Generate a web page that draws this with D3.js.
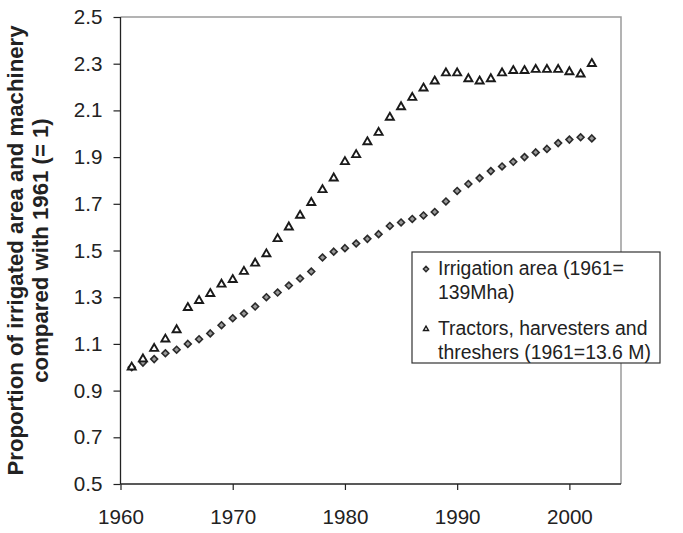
<!DOCTYPE html>
<html lang="en">
<head>
  <meta charset="UTF-8" />
  <title>Irrigated area and machinery</title>
  <script src="https://d3js.org/d3.v7.min.js"></script>
  <style>
    body {
      margin: 0;
      padding: 0;
      background: white;
      font-family: "Liberation Sans", Arial, sans-serif;
    }
    .y-title {
      font-size: 22.2px;
      font-weight: bold;
      fill: #222;
    }
    .legend-text {
      font-size: 19.4px;
      fill: #222;
    }
  </style>
</head>
<body>
  <svg id="chart" width="683" height="533"></svg>

  <script>
    // years 1961..2002
    const years = [1961, 1962, 1963, 1964, 1965, 1966, 1967, 1968, 1969, 1970,
                   1971, 1972, 1973, 1974, 1975, 1976, 1977, 1978, 1979, 1980,
                   1981, 1982, 1983, 1984, 1985, 1986, 1987, 1988, 1989, 1990,
                   1991, 1992, 1993, 1994, 1995, 1996, 1997, 1998, 1999, 2000,
                   2001, 2002];

    // Irrigation area relative to 1961
    const irrigation = [1.00, 1.02, 1.035, 1.06, 1.075, 1.10, 1.12, 1.145, 1.18, 1.21,
                        1.23, 1.26, 1.30, 1.32, 1.35, 1.38, 1.41, 1.47, 1.495, 1.51,
                        1.53, 1.55, 1.57, 1.605, 1.62, 1.635, 1.65, 1.665, 1.71, 1.755,
                        1.785, 1.81, 1.84, 1.86, 1.88, 1.90, 1.92, 1.935, 1.96, 1.975,
                        1.985, 1.98];

    // Tractors, harvesters and threshers relative to 1961
    const machinery = [1.00, 1.035, 1.08, 1.12, 1.16, 1.255, 1.285, 1.315, 1.355, 1.375,
                       1.41, 1.445, 1.485, 1.55, 1.60, 1.65, 1.705, 1.76, 1.81, 1.88,
                       1.91, 1.965, 2.005, 2.07, 2.115, 2.155, 2.195, 2.225, 2.26, 2.26,
                       2.235, 2.225, 2.235, 2.26, 2.27, 2.27, 2.275, 2.275, 2.275, 2.265,
                       2.255, 2.30];

    const xTicks = [1960, 1970, 1980, 1990, 2000];
    const yTicks = [0.5, 0.7, 0.9, 1.1, 1.3, 1.5, 1.7, 1.9, 2.1, 2.3, 2.5];
    const legendLabels = [
      ["Irrigation area (1961=", "139Mha)"],
      ["Tractors, harvesters and", "threshers (1961=13.6 M)"]
    ];

    const plot = { left: 120.5, right: 621, top: 17, bottom: 484 };

    const svg = d3.select("#chart");

    const x = d3.scaleLinear().domain([1960, 2004.6]).range([plot.left, plot.right]);
    const y = d3.scaleLinear().domain([0.5, 2.5]).range([plot.bottom, plot.top]);

    // top and right frame (grey)
    svg.append("path")
      .attr("d", `M${plot.left},${plot.top}H${plot.right}V${plot.bottom}`)
      .attr("fill", "none")
      .attr("stroke", "#9a9a9a")
      .attr("stroke-width", 1.5);

    // y axis
    const yAxis = svg.append("g")
      .attr("transform", `translate(${plot.left},0)`)
      .call(d3.axisLeft(y).tickValues(yTicks).tickFormat(d3.format(".1f")).tickSize(7).tickPadding(11));

    // x axis
    const xAxis = svg.append("g")
      .attr("transform", `translate(0,${plot.bottom})`)
      .call(d3.axisBottom(x).tickValues(xTicks).tickFormat(d3.format("d")).tickSize(6).tickPadding(19));

    [yAxis, xAxis].forEach(g => {
      g.select(".domain").attr("stroke", "#222").attr("stroke-width", 1.3);
      g.selectAll(".tick line").attr("stroke", "#222").attr("stroke-width", 1.2);
      g.selectAll(".tick text")
        .attr("fill", "#222")
        .style("font-family", "'Liberation Sans', Arial, sans-serif")
        .style("font-size", "20.6px");
    });
    yAxis.select(".domain").attr("d", `M0,${plot.top}V${plot.bottom}`);
    xAxis.select(".domain").attr("d", `M${plot.left},0H${plot.right}`);

    // y title
    const titleG = svg.append("g")
      .attr("transform", `translate(0,${(plot.top + plot.bottom) / 2}) rotate(-90)`);
    titleG.append("text")
      .attr("class", "y-title")
      .attr("x", 0)
      .attr("y", 23)
      .attr("text-anchor", "middle")
      .text("Proportion of irrigated area and machinery");
    titleG.append("text")
      .attr("class", "y-title")
      .attr("x", 0)
      .attr("y", 48)
      .attr("text-anchor", "middle")
      .text("compared with 1961 (= 1)");

    const diamond = d3.symbol().type(d3.symbolDiamond2).size(30);
    const triangle = d3.symbol().type(d3.symbolTriangle2).size(46);

    // irrigation diamonds
    svg.append("g").selectAll("path")
      .data(years.map((yr, i) => ({ yr, v: irrigation[i] })))
      .join("path")
      .attr("d", diamond)
      .attr("transform", d => `translate(${x(d.yr)},${y(d.v)})`)
      .attr("fill", "#9a9a9a")
      .attr("stroke", "#2a2a2a")
      .attr("stroke-width", 1.6);

    // machinery triangles
    svg.append("g").selectAll("path")
      .data(years.map((yr, i) => ({ yr, v: machinery[i] })))
      .join("path")
      .attr("d", triangle)
      .attr("transform", d => `translate(${x(d.yr)},${y(d.v)})`)
      .attr("fill", "white")
      .attr("stroke", "#1a1a1a")
      .attr("stroke-width", 1.9);

    // legend
    const legend = svg.append("g").attr("transform", "translate(412,252)");
    legend.append("rect")
      .attr("width", 248)
      .attr("height", 111)
      .attr("fill", "white")
      .attr("stroke", "#333")
      .attr("stroke-width", 1.2);

    const legendSymbols = [
      { sym: d3.symbol().type(d3.symbolDiamond2).size(18), fill: "#9a9a9a", stroke: "#2a2a2a" },
      { sym: d3.symbol().type(d3.symbolTriangle2).size(18), fill: "white", stroke: "#1a1a1a" }
    ];
    const entryY = [23, 83];

    legendLabels.forEach((lines, i) => {
      legend.append("path")
        .attr("d", legendSymbols[i].sym)
        .attr("transform", `translate(14,${entryY[i] - 6})`)
        .attr("fill", legendSymbols[i].fill)
        .attr("stroke", legendSymbols[i].stroke)
        .attr("stroke-width", 1.4);
      lines.forEach((t, j) => {
        legend.append("text")
          .attr("class", "legend-text")
          .attr("x", 26)
          .attr("y", entryY[i] + j * 24)
          .text(t);
      });
    });
  </script>
</body>
</html>
